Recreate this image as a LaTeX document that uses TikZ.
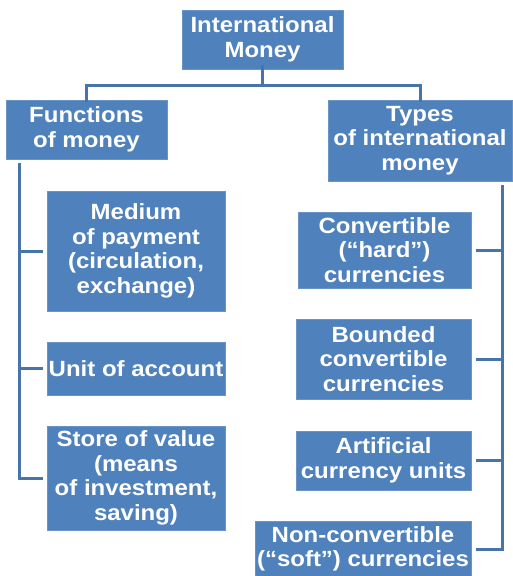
\documentclass[tikz,border=0pt]{standalone}
\usepackage{fontspec}
\setmainfont[FakeStretch=1.09]{Liberation Sans}
\definecolor{boxblue}{HTML}{4F81BD}
\definecolor{lineblue}{HTML}{4774AA}
\begin{document}
\begin{tikzpicture}[x=1pt,y=-1pt,
  bx/.style={fill=boxblue, draw=boxblue!85!white, line width=0.6pt, text=white,
    font=\fontsize{22}{24.6}\selectfont\bfseries, align=center,
    inner sep=0pt, outer sep=0pt},
  conn/.style={draw=lineblue, line width=3pt}]
\useasboundingbox (0,0) rectangle (513,576);
\node[bx, minimum width=161pt, minimum height=59pt] (top) at (262.5,39.5) {International\\Money};
\node[bx, minimum width=161pt, minimum height=59pt] (func) at (86.5,129.5) {Functions\\of money};
\node[bx, minimum width=184pt, minimum height=81pt] (types) at (420,140.5) {Types\\of international\\money};
\node[bx, minimum width=178pt, minimum height=120pt] (medium) at (136,251) {Medium\\of payment\\(circulation,\\exchange)};
\node[bx, minimum width=178pt, minimum height=53pt] (unit) at (136,368.5) {Unit of account};
\node[bx, minimum width=178pt, minimum height=104pt] (store) at (136,478) {Store of value\\(means\\of investment,\\saving)};
\node[bx, minimum width=173pt, minimum height=76pt] (conv) at (384.5,250) {Convertible\\(“hard”)\\currencies};
\node[bx, minimum width=175pt, minimum height=80pt] (bounded) at (383.5,359) {Bounded\\convertible\\currencies};
\node[bx, minimum width=175pt, minimum height=59pt] (artif) at (383.5,460.5) {Artificial\\currency units};
\node[bx, minimum width=216pt, minimum height=56pt] (nonconv) at (363,549) {Non-convertible\\(“soft”) currencies};
% top connectors
\coordinate (hub) at (262.5,85);
\draw[conn] ([yshift=4pt]top.south) -- (hub);
\draw[conn] (hub) -| ([yshift=-2pt]func.north);
\draw[conn] (hub) -| ([yshift=-2pt]types.north);
% left spine
\coordinate (ls) at (19,163);
\draw[conn] (ls) |- ([xshift=-4pt]store.west);
\draw[conn] (ls |- medium.west) -- ([xshift=-4pt]medium.west);
\draw[conn] (ls |- unit.west) -- ([xshift=-4pt]unit.west);
% right spine
\coordinate (rs) at (502,185);
\draw[conn] (rs) |- ([xshift=5pt]nonconv.east);
\draw[conn] (rs |- conv.east) -- ([xshift=5pt]conv.east);
\draw[conn] (rs |- bounded.east) -- ([xshift=5pt]bounded.east);
\draw[conn] (rs |- artif.east) -- ([xshift=5pt]artif.east);
\end{tikzpicture}
\end{document}
